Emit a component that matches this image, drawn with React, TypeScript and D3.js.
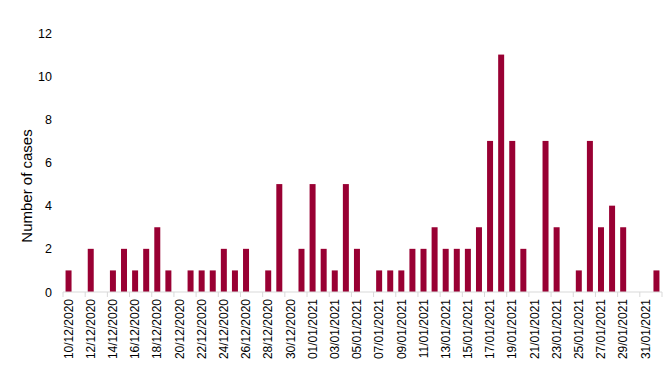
import React, { useEffect, useRef } from 'react'
import * as d3 from 'd3'

// daily case counts, 10/12/2020 .. 01/02/2021
const startDate = new Date(2020, 11, 10)
const cases: number[] = [
    1, 0, 2, 0, 1, 2, 1, 2, 3, 1,
    0, 1, 1, 1, 2, 1, 2, 0, 1, 5,
    0, 2, 5, 2, 1, 5, 2, 0, 1, 1,
    1, 2, 2, 3, 2, 2, 2, 3, 7, 11,
    7, 2, 0, 7, 3, 0, 1, 7, 3, 4,
    3, 0, 0, 1,
]
const yTicks = [0, 2, 4, 6, 8, 10, 12]
const yLabel = 'Number of cases'

const fmt = d3.timeFormat('%d/%m/%Y')
const dates: string[] = cases.map((_, i) => fmt(d3.timeDay.offset(startDate, i)))

const width = 672
const height = 371
const margin = { top: 33, right: 10, bottom: 79, left: 63 }
const barColor = '#990033'
const font = '"Liberation Sans", Arial, sans-serif'

function App() {
    const ref = useRef<SVGGElement>(null)

    useEffect(() => {
        const innerWidth = width - margin.left - margin.right
        const innerHeight = height - margin.top - margin.bottom

        const x = d3.scaleBand<string>().domain(dates).range([0, innerWidth]).paddingInner(0.46).paddingOuter(0.23)
        const y = d3.scaleLinear().domain([0, 12]).range([innerHeight, 0])

        const g = d3.select(ref.current)
        g.selectAll('*').remove()
        g.attr('transform', `translate(${margin.left},${margin.top})`)

        // bars
        g.selectAll('.bar')
            .data(cases.map((v, i) => [dates[i], v] as [string, number]).filter(d => d[1] > 0))
            .join('rect')
            .attr('class', 'bar')
            .attr('x', d => x(d[0])!)
            .attr('y', d => y(d[1]))
            .attr('width', x.bandwidth())
            .attr('height', d => innerHeight - y(d[1]))
            .attr('fill', barColor)

        // y axis: labels only
        const yAxis = d3.axisLeft(y).tickValues(yTicks).tickSize(0).tickPadding(11)
        const ya = g.append('g').call(yAxis)
        ya.select('.domain').remove()
        ya.selectAll('text').attr('font-family', font).attr('font-size', 12.5).attr('fill', '#000')

        // x axis line + ticks every 2 days at category boundaries
        const step = x.step()
        const xa = g.append('g').attr('transform', `translate(0,${innerHeight})`)
        xa.append('line').attr('x1', 0).attr('x2', innerWidth).attr('y1', 0).attr('y2', 0)
            .attr('stroke', '#d9d9d9').attr('stroke-width', 1)
        const tickIdx = d3.range(0, dates.length + 1, 2)
        xa.selectAll('.tick')
            .data(tickIdx)
            .join('line')
            .attr('class', 'tick')
            .attr('x1', i => i * step).attr('x2', i => i * step)
            .attr('y1', 0).attr('y2', 5)
            .attr('stroke', '#d9d9d9')

        xa.selectAll('.lab')
            .data(dates.filter((_, i) => i % 2 === 0))
            .join('text')
            .attr('class', 'lab')
            .attr('transform', d => `translate(${x(d)! + x.bandwidth() / 2},7) rotate(-90)`)
            .attr('text-anchor', 'end')
            .attr('dy', '0.35em')
            .attr('font-family', font)
            .attr('font-size', 12)
            .attr('fill', '#000')
            .text(d => d)

        g.append('text')
            .attr('transform', `translate(${27 - margin.left},${186 - margin.top}) rotate(-90)`)
            .attr('text-anchor', 'middle')
            .attr('dy', '0.35em')
            .attr('font-family', font)
            .attr('font-size', 15)
            .attr('fill', '#000')
            .text(yLabel)
    }, [])

    return (
        <svg width={width} height={height} style={{ position: 'absolute', left: 0, top: 0, background: '#fff' }}>
            <g ref={ref} />
        </svg>
    )
}

export default App
